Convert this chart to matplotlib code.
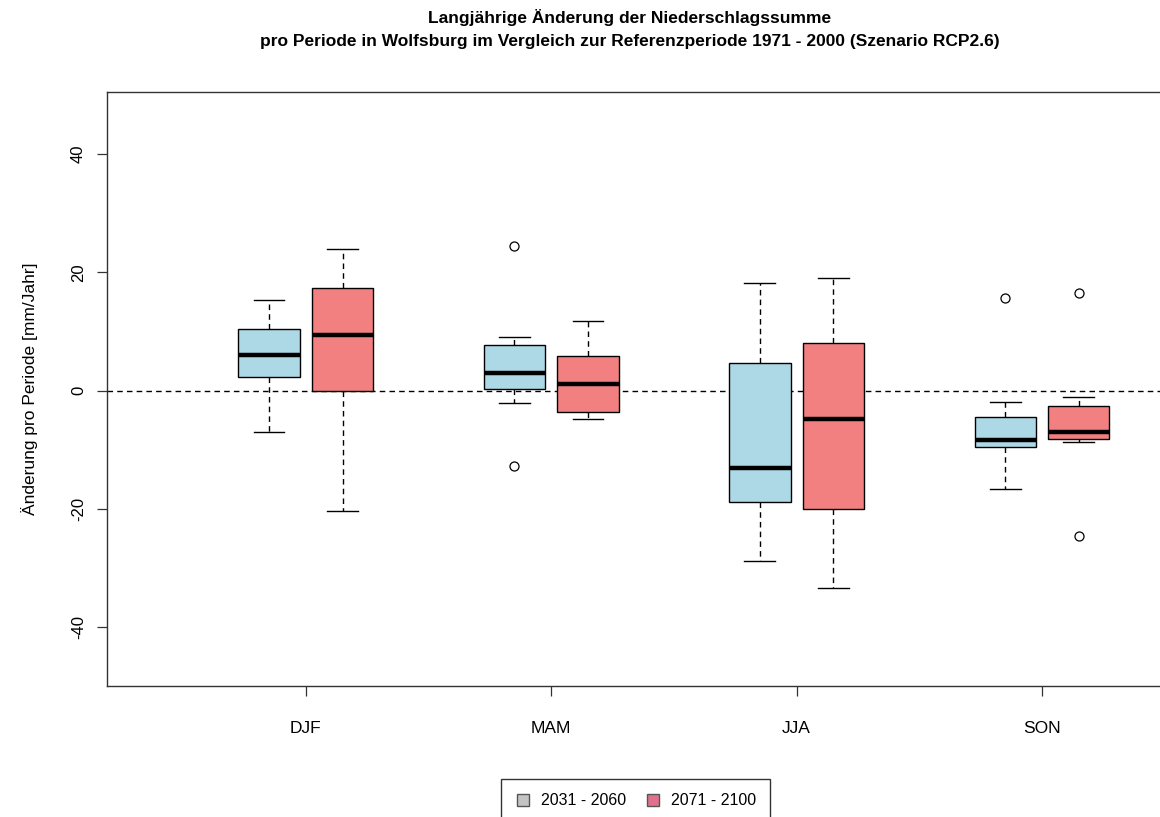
"""
Long-term change of precipitation per season in Wolfsburg (RCP2.6),
boxplots for two future periods compared to 1971 - 2000.
"""

import matplotlib
matplotlib.use('Agg')
import matplotlib.pyplot as plt
from matplotlib.lines import Line2D

plt.rcParams['font.family'] = ['Liberation Sans', 'DejaVu Sans']

# Data
# -----------------------------------------------------------------------------

seasons = ['DJF', 'MAM', 'JJA', 'SON']
periods = ['2031 - 2060', '2071 - 2100']

# per season: lower whisker, q1, median, q3, upper whisker
p1_whislo = [-6.9, -2.1, -28.7, -16.6]
p1_q1 = [2.3, 0.3, -18.8, -9.5]
p1_med = [6.0, 3.0, -13.0, -8.4]
p1_q3 = [10.5, 7.8, 4.7, -4.4]
p1_whishi = [15.3, 9.1, 18.3, -1.9]
p1_fliers = [[], [24.4, -12.7], [], [15.6]]

p2_whislo = [-20.3, -4.7, -33.4, -8.6]
p2_q1 = [0.0, -3.6, -20.0, -8.2]
p2_med = [9.5, 1.1, -4.7, -7.0]
p2_q3 = [17.4, 5.8, 8.0, -2.5]
p2_whishi = [24.0, 11.8, 19.0, -1.1]
p2_fliers = [[], [], [], [16.5, -24.6]]


def _stats(lo, q1, med, q3, hi, fl):
    return [dict(whislo=a, q1=b, med=c, q3=d, whishi=e, fliers=f)
            for a, b, c, d, e, f in zip(lo, q1, med, q3, hi, fl)]


stats1 = _stats(p1_whislo, p1_q1, p1_med, p1_q3, p1_whishi, p1_fliers)
stats2 = _stats(p2_whislo, p2_q1, p2_med, p2_q3, p2_whishi, p2_fliers)

# Plot
# -----------------------------------------------------------------------------

fig = plt.figure(figsize=(11.6, 8.17), dpi=100)
ax = fig.add_axes([0.0922, 0.1603, 0.9776, 0.7271])

pos = list(range(1, len(seasons) + 1))
off = 0.15
width = 0.25


def _draw(stats, positions, color):
    ax.bxp(stats, positions=positions, widths=width, patch_artist=True,
           showfliers=True,
           boxprops=dict(facecolor=color, edgecolor='black', linewidth=1.0),
           medianprops=dict(color='black', linewidth=3.2, solid_capstyle='butt'),
           whiskerprops=dict(color='black', linewidth=1.0, linestyle=(0, (4, 3))),
           capprops=dict(color='black', linewidth=1.0),
           capwidths=width / 2,
           flierprops=dict(marker='o', markerfacecolor='none',
                           markeredgecolor='black', markersize=6.5,
                           markeredgewidth=0.9))


ax.axhline(0, color='black', linewidth=1.0, linestyle=(0, (4, 3)), zorder=0)
_draw(stats1, [p - off for p in pos], '#add8e6')
_draw(stats2, [p + off for p in pos], '#f28080')

ax.set_xlim(0.189, 4.811)
ax.set_ylim(-49.9, 50.5)
ax.set_xticks(pos)
ax.set_xticklabels(seasons, fontsize=12.5)
ax.set_yticks([-40, -20, 0, 20, 40])
ax.set_yticklabels(['-40', '-20', '0', '20', '40'], fontsize=12,
                   rotation=90, va='center')
ax.tick_params(direction='out', length=7, width=0.9, color='#333333', pad=8)
ax.tick_params(axis='x', pad=18)
for s in ax.spines.values():
    s.set_color('#333333')
    s.set_linewidth(1.0)
ax.set_ylabel('Änderung pro Periode [mm/Jahr]', fontsize=12.5, labelpad=24)

fig.text(0.543, 0.989,
         'Langjährige Änderung der Niederschlagssumme\n'
         'pro Periode in Wolfsburg im Vergleich zur Referenzperiode 1971 - 2000 '
         '(Szenario RCP2.6)',
         ha='center', va='top', fontsize=12.5, fontweight='bold', linespacing=1.65)

handles = [Line2D([], [], linestyle='none', marker='s', markersize=8,
                  markerfacecolor=c, markeredgecolor='#555555')
           for c in ['#c4c4c4', '#e0708c']]
leg = fig.legend(handles, periods, loc='upper center',
                 bbox_to_anchor=(0.548, 1 - 771 / 817), ncol=2,
                 fontsize=11.5, frameon=True, fancybox=False, handlelength=1.0,
                 handletextpad=0.6, columnspacing=1.2, borderpad=0.9)
leg.get_frame().set_edgecolor('black')
leg.get_frame().set_linewidth(1.0)

fig.savefig('out.png', dpi=100)
